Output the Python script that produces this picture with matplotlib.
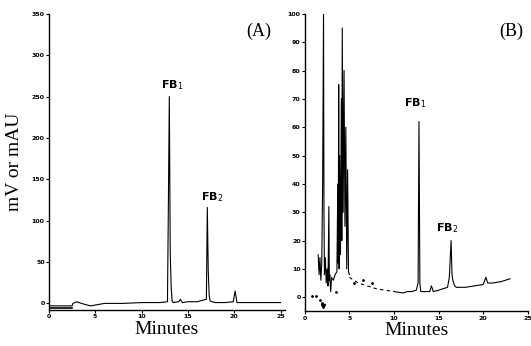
import numpy as np
import matplotlib.pyplot as plt

# Panel A chromatogram (minutes, mV)
a_time = [0, 2.5, 2.6, 3.0, 3.5, 4.5, 5.0, 6.0, 8.0, 10.0, 12.0, 12.8, 12.9, 13.0,
          13.1, 13.2, 13.3, 13.4, 14.0, 14.2, 14.4, 15.0, 16.0, 17.0, 17.1, 17.2,
          17.3, 17.4, 17.6, 18.0, 19.0, 19.9, 20.1, 20.3, 21.0, 23.0, 25.0]
a_signal = [-3, -3, 0, 2, 0, -3, -2, 0, 0, 1, 1, 2, 120, 250,
            60, 20, 3, 1, 2, 5, 1, 2, 2, 5, 116, 40,
            10, 3, 2, 1, 1, 2, 15, 1, 1, 1, 1]

# Panel B chromatogram (minutes, mAU)
b_time = [1.5, 1.6, 1.7, 1.8, 1.9, 2.0, 2.1, 2.15, 2.2, 2.3, 2.4, 2.5, 2.6, 2.7,
          2.75, 2.8, 2.9, 3.0, 3.2, 3.4, 3.6, 3.7, 3.75, 3.8, 3.85, 3.9, 4.0, 4.1,
          4.15, 4.2, 4.3, 4.4, 4.5, 4.6, 4.7, 4.8, 4.9, 5.0]
b_signal = [15, 8, 14, 6, 12, 40, 100, 30, 8, 14, 5, 10, 4, 32,
            6, 8, 2, 7, 6, 8, 9, 40, 12, 75, 10, 50, 15, 70,
            20, 95, 30, 80, 25, 60, 10, 45, 9, 8]
b_mid_time = [5.0, 6.0, 7.0, 8.0, 9.0, 10.0]
b_mid_signal = [7, 5, 4, 3, 2.5, 2]
b_late_time = [10.0, 11.0, 11.5, 12.0, 12.5, 12.7, 12.8, 12.9, 13.0, 14.0, 14.2,
               14.4, 15.0, 15.5, 16.0, 16.2, 16.4, 16.5, 16.6, 16.8, 17.0, 18.0,
               19.0, 20.0, 20.3, 20.5, 21.0, 22.0, 23.0]
b_late_signal = [2, 1.5, 2, 2, 2.5, 5, 62, 5, 2, 2, 4,
                 2, 2.5, 3, 3.5, 7, 20, 8, 6, 4, 3.5, 3.5,
                 4, 4.5, 7, 5, 5, 5.5, 6.5]
b_dot_time = [0.8, 1.3, 1.7, 1.9, 3.5, 5.5, 6.5, 7.5]
b_dot_signal = [0.5, 0.5, -1, -2, 2, 5, 6, 5]

serif = 'Liberation Serif'
tick_kw = dict(labelsize=4.5, length=2, width=0.8, pad=1)

fig = plt.figure(figsize=(5.31, 3.46), dpi=100)
ax1 = fig.add_axes([0.092, 0.104, 0.445, 0.856])
ax2 = fig.add_axes([0.574, 0.10, 0.42, 0.86])

# panel A
ax1.plot(a_time, a_signal, color='black', lw=0.8)
ax1.plot([0, 2.5], [-6, -6], color='black', lw=1.2)
ax1.set_xlim(0, 25.5)
ax1.set_ylim(-8, 350)
ax1.set_xticks([0, 5, 10, 15, 20, 25])
ax1.set_yticks(np.arange(0, 351, 50))
ax1.text(13.3, 255, 'FB$_1$', fontsize=8, fontweight='bold', ha='center', va='bottom')
ax1.text(17.6, 120, 'FB$_2$', fontsize=8, fontweight='bold', ha='center', va='bottom')
ax1.text(0.94, 0.97, '(A)', transform=ax1.transAxes, family=serif, fontsize=13,
         ha='right', va='top')
ax1.set_ylabel('mV or mAU', family=serif, fontsize=14, labelpad=6)
ax1.set_xlabel('Minutes', family=serif, fontsize=14, labelpad=1)

# panel B
ax2.plot(b_time, b_signal, color='black', lw=0.8)
ax2.plot(b_mid_time, b_mid_signal, color='black', lw=0.8, ls=(0, (3, 3)))
ax2.plot(b_late_time, b_late_signal, color='black', lw=0.8)
ax2.plot(b_dot_time, b_dot_signal, 'k.', ms=2)
ax2.plot([2.0], [-3], 'kv', ms=3)
ax2.set_xlim(0, 25)
ax2.set_ylim(-5, 100)
ax2.set_xticks([0, 5, 10, 15, 20, 25])
ax2.set_yticks(np.arange(0, 101, 10))
ax2.text(12.4, 66, 'FB$_1$', fontsize=8, fontweight='bold', ha='center', va='bottom')
ax2.text(16.0, 22, 'FB$_2$', fontsize=8, fontweight='bold', ha='center', va='bottom')
ax2.text(0.98, 0.97, '(B)', transform=ax2.transAxes, family=serif, fontsize=13,
         ha='right', va='top')
ax2.set_xlabel('Minutes', family=serif, fontsize=14, labelpad=1)

for ax in (ax1, ax2):
    ax.spines['top'].set_visible(False)
    ax.spines['right'].set_visible(False)
    ax.spines['left'].set_linewidth(1.0)
    ax.spines['bottom'].set_linewidth(1.0)
    ax.tick_params(**tick_kw)
    for lab in ax.get_xticklabels() + ax.get_yticklabels():
        lab.set_fontweight('bold')

fig.savefig('out.png', dpi=100)
